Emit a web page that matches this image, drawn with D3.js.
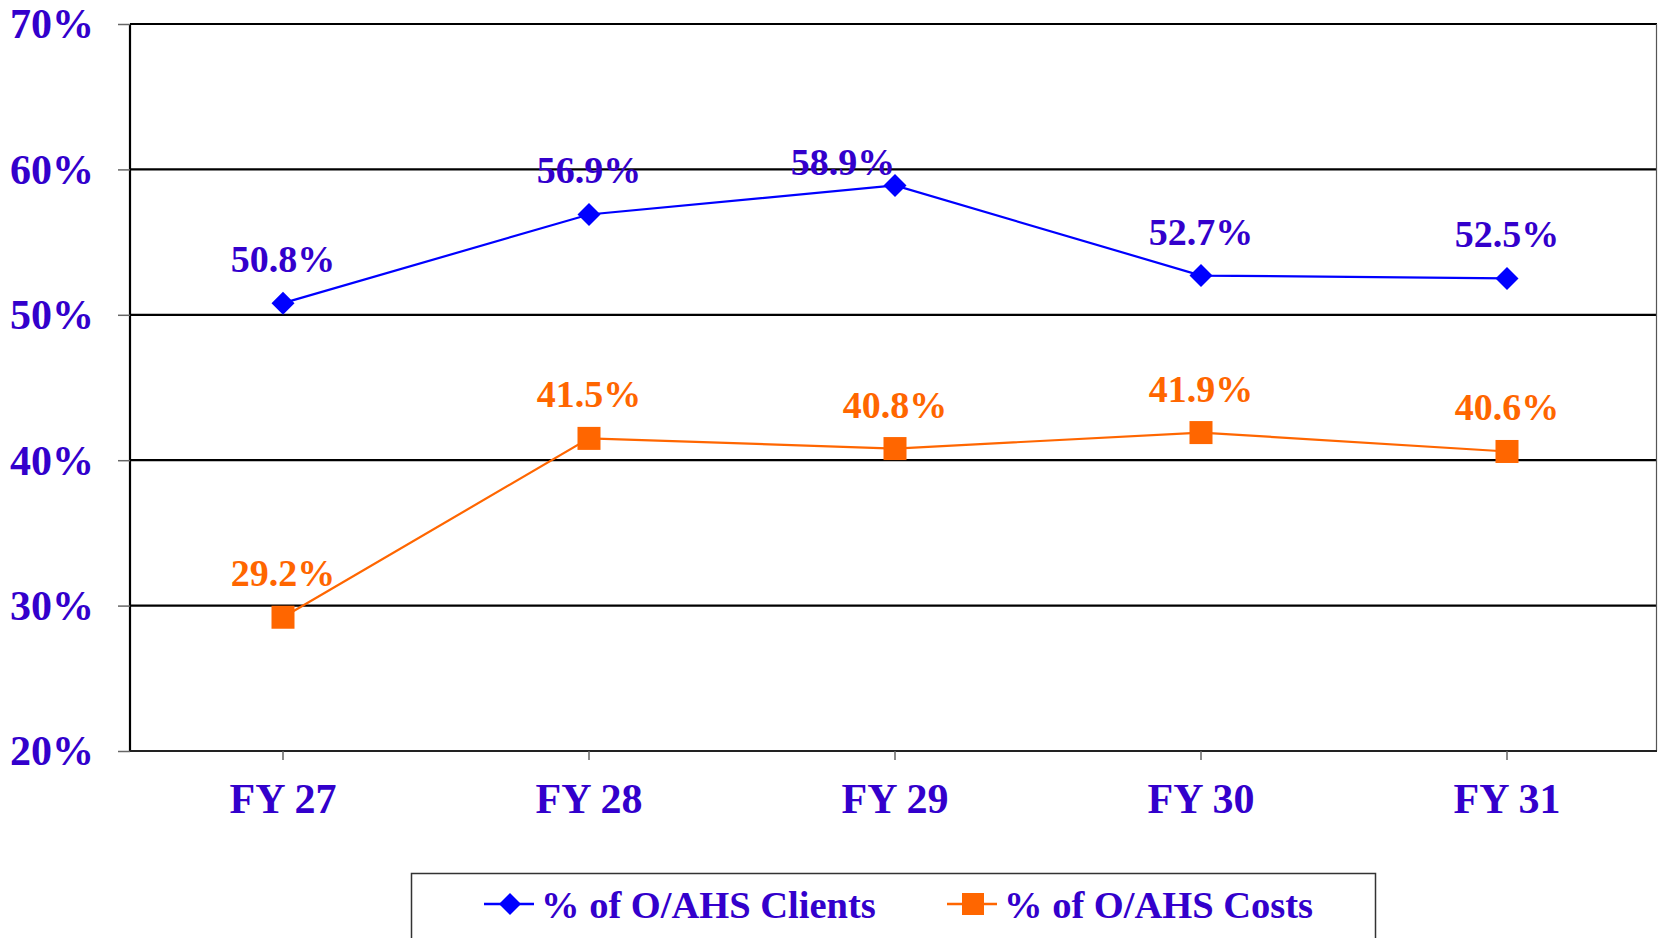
<!DOCTYPE html>
<html>
<head>
<meta charset="utf-8">
<script src="https://cdn.jsdelivr.net/npm/d3@7"></script>
<style>
  html, body { margin: 0; padding: 0; background: #fff; }
  svg { display: block; }
  text { font-family: "Liberation Serif", "Times New Roman", serif; font-weight: bold; }
</style>
</head>
<body>
<svg id="chart" width="1658" height="938"></svg>
<script>
const categories = ["FY 27", "FY 28", "FY 29", "FY 30", "FY 31"];
const clientsValues = [50.8, 56.9, 58.9, 52.7, 52.5];
const costsValues = [29.2, 41.5, 40.8, 41.9, 40.6];
const yTicks = [20, 30, 40, 50, 60, 70];
const seriesNames = ["% of O/AHS Clients", "% of O/AHS Costs"];

const W = 1658, H = 938;
const plotLeft = 130, plotRight = 1657, plotTop = 24, plotBottom = 751;
const svg = d3.select("#chart");
const TEXT = "#3300CC";
const BLUE = "#0000FF";
const ORANGE = "#FF6600";

const x = d3.scaleBand().domain(categories).range([plotLeft, 1660]);
const y = d3.scaleLinear().domain([20, 70]).range([plotBottom, plotTop]);
const cx = c => x(c) + x.bandwidth() / 2;

// gridlines
svg.append("g").selectAll("line").data(yTicks.filter(t => t > 20)).join("line")
  .attr("x1", plotLeft).attr("x2", plotRight)
  .attr("y1", d => y(d)).attr("y2", d => y(d))
  .attr("stroke", "#000").attr("stroke-width", 2.2);

// right frame
svg.append("line").attr("x1", plotRight - 0.5).attr("x2", plotRight - 0.5)
  .attr("y1", y(70)).attr("y2", y(20)).attr("stroke", "#555").attr("stroke-width", 1.2);

// y axis
const yAxis = svg.append("g").attr("transform", `translate(${plotLeft},0)`)
  .call(d3.axisLeft(y).tickValues(yTicks).tickSize(12).tickFormat(d => d + "%"));
yAxis.select(".domain").attr("stroke", "#000").attr("stroke-width", 2.2)
  .attr("d", `M0,${y(70)}V${y(20)}`);
yAxis.selectAll(".tick line").attr("stroke", "#666").attr("stroke-width", 1.5);
yAxis.selectAll(".tick text").attr("fill", TEXT).attr("font-size", 42)
  .attr("font-family", "Liberation Serif, serif").attr("font-weight", "bold")
  .attr("x", -36).attr("dy", "0.33em");

// x axis
const xAxis = svg.append("g").attr("transform", `translate(0,${y(20)})`)
  .call(d3.axisBottom(x).tickSize(9));
xAxis.select(".domain").attr("stroke", "#222").attr("stroke-width", 2.2)
  .attr("d", `M${plotLeft},0H${plotRight}`);
xAxis.selectAll(".tick line").attr("stroke", "#666").attr("stroke-width", 1.5);
xAxis.selectAll(".tick text").attr("fill", TEXT).attr("font-size", 42)
  .attr("font-family", "Liberation Serif, serif").attr("font-weight", "bold")
  .attr("y", 62).attr("dy", 0);

const line = d3.line().x((d, i) => cx(categories[i])).y(d => y(d));

// costs series
svg.append("path").datum(costsValues).attr("d", line)
  .attr("fill", "none").attr("stroke", ORANGE).attr("stroke-width", 2.2);
svg.append("g").selectAll("rect").data(costsValues).join("rect")
  .attr("x", (d, i) => cx(categories[i]) - 11.5).attr("y", d => y(d) - 11.5)
  .attr("width", 23).attr("height", 23).attr("fill", ORANGE);

// clients series
svg.append("path").datum(clientsValues).attr("d", line)
  .attr("fill", "none").attr("stroke", BLUE).attr("stroke-width", 2.2);
const diamond = (px, py, r) => `M${px},${py - r}L${px + r},${py}L${px},${py + r}L${px - r},${py}Z`;
svg.append("g").selectAll("path").data(clientsValues).join("path")
  .attr("d", (d, i) => diamond(cx(categories[i]), y(d), 11.5)).attr("fill", BLUE);

// data labels
function labelOffset(seriesIdx, i) {
  // the FY 29 clients label sits up-left of its point in the original
  if (seriesIdx === 0 && i === 2) return { dx: -52, dy: -10 };
  return { dx: 0, dy: -31 };
}
[[clientsValues, TEXT, 0], [costsValues, ORANGE, 1]].forEach(([vals, col, s]) => {
  svg.append("g").selectAll("text").data(vals).join("text")
    .attr("x", (d, i) => cx(categories[i]) + labelOffset(s, i).dx)
    .attr("y", (d, i) => y(d) + labelOffset(s, i).dy)
    .attr("text-anchor", "middle").attr("fill", col).attr("font-size", 38)
    .text(d => d.toFixed(1) + "%");
});

// legend
const lg = svg.append("g");
lg.append("rect").attr("x", 411.5).attr("y", 873.5).attr("width", 964).attr("height", 80)
  .attr("fill", "#fff").attr("stroke", "#333").attr("stroke-width", 1.5);
const legendItems = [
  { name: seriesNames[0], color: BLUE, shape: "diamond", lx: 484 },
  { name: seriesNames[1], color: ORANGE, shape: "square", lx: 947 }
];
const ly = 904;
legendItems.forEach(it => {
  lg.append("line").attr("x1", it.lx).attr("x2", it.lx + 50).attr("y1", ly).attr("y2", ly)
    .attr("stroke", it.color).attr("stroke-width", 2.5);
  const mx = it.lx + 26;
  if (it.shape === "diamond") {
    lg.append("path").attr("d", diamond(mx, ly, 11)).attr("fill", it.color);
  } else {
    lg.append("rect").attr("x", mx - 11).attr("y", ly - 11).attr("width", 22).attr("height", 22).attr("fill", it.color);
  }
  lg.append("text").attr("x", it.lx + 57).attr("y", 918).attr("fill", TEXT)
    .attr("font-size", 38.5).text(it.name);
});
</script>
</body>
</html>
